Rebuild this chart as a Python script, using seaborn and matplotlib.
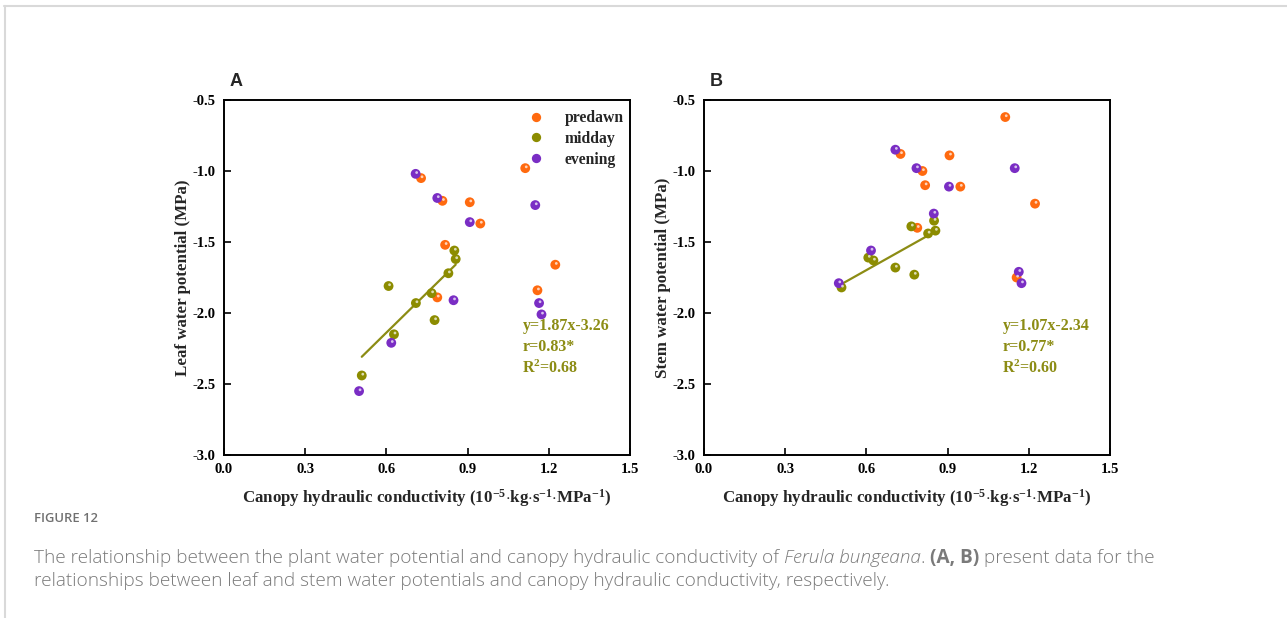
import matplotlib
matplotlib.use("Agg")
import matplotlib.pyplot as plt
import matplotlib.transforms as mtransforms
from matplotlib.lines import Line2D
import seaborn as sns
import pandas as pd
import numpy as np

# ---------------- data ----------------
# Panel A: leaf water potential (MPa) vs canopy hydraulic conductivity
a_predawn_x = [0.728, 0.807, 0.908, 0.947, 1.113, 0.817, 1.224, 1.158, 0.788]
a_predawn_y = [-1.05, -1.21, -1.22, -1.37, -0.98, -1.52, -1.66, -1.84, -1.89]
a_midday_x = [0.851, 0.856, 0.829, 0.608, 0.767, 0.709, 0.778, 0.628, 0.509]
a_midday_y = [-1.56, -1.62, -1.72, -1.81, -1.86, -1.93, -2.05, -2.15, -2.44]
a_evening_x = [0.708, 0.788, 0.908, 1.150, 0.848, 1.164, 1.173, 0.618, 0.499]
a_evening_y = [-1.02, -1.19, -1.36, -1.24, -1.91, -1.93, -2.01, -2.21, -2.55]

# Panel B: stem water potential (MPa)
b_predawn_x = [1.113, 0.726, 0.907, 0.807, 0.817, 0.947, 1.223, 0.788, 1.155]
b_predawn_y = [-0.62, -0.88, -0.89, -1.00, -1.10, -1.11, -1.23, -1.40, -1.75]
b_midday_x = [0.850, 0.855, 0.766, 0.828, 0.607, 0.626, 0.707, 0.777, 0.508]
b_midday_y = [-1.35, -1.42, -1.39, -1.44, -1.61, -1.63, -1.68, -1.73, -1.82]
b_evening_x = [0.707, 0.785, 0.905, 1.148, 0.849, 0.617, 1.163, 1.173, 0.498]
b_evening_y = [-0.85, -0.98, -1.11, -0.98, -1.30, -1.56, -1.71, -1.79, -1.79]

fits = {"A": (1.87, -3.26, "0.83*", "0.68"), "B": (1.07, -2.34, "0.77*", "0.60")}
series_names = ["predawn", "midday", "evening"]
x_ticks = [0.0, 0.3, 0.6, 0.9, 1.2, 1.5]
y_ticks = [-3.0, -2.5, -2.0, -1.5, -1.0, -0.5]
y_labels = ["Leaf water potential (MPa)", "Stem water potential (MPa)"]
x_label = r"Canopy hydraulic conductivity (10$^{\mathbf{-5}}$$\cdot$kg$\cdot$s$^{\mathbf{-1}}$$\cdot$MPa$^{\mathbf{-1}}$)"

colors = {"predawn": "#FF6A0F", "midday": "#8C8C00", "evening": "#7A2DC4"}
fit_color = "#8C8C14"

sns.set_theme(style="white")
plt.rcParams["font.family"] = ["Liberation Serif", "DejaVu Serif"]
plt.rcParams["mathtext.fontset"] = "custom"
plt.rcParams["mathtext.rm"] = "Liberation Serif:bold"
plt.rcParams["mathtext.it"] = "Liberation Serif:bold"
plt.rcParams["mathtext.bf"] = "Liberation Serif:bold"
plt.rcParams["axes.unicode_minus"] = False


def make_df(px, py, mx, my, ex, ey):
    rows = []
    for name, xs, ys in zip(series_names, [px, mx, ex], [py, my, ey]):
        for x, y in zip(xs, ys):
            rows.append({"K": x, "psi": y, "time": name})
    return pd.DataFrame(rows)


df_a = make_df(a_predawn_x, a_predawn_y, a_midday_x, a_midday_y, a_evening_x, a_evening_y)
df_b = make_df(b_predawn_x, b_predawn_y, b_midday_x, b_midday_y, b_evening_x, b_evening_y)

fig = plt.figure(figsize=(12.87, 6.18), dpi=100)
axA = fig.add_axes([224 / 1287, 163 / 618, 406 / 1287, 355 / 618])
axB = fig.add_axes([704 / 1287, 163 / 618, 406 / 1287, 355 / 618])


def draw_panel(ax, df, key, ylabel, legend):
    for name in series_names:
        sub = df[df["time"] == name]
        sns.scatterplot(data=sub, x="K", y="psi", ax=ax, color=colors[name], s=50,
                        edgecolor="none", legend=False, zorder=3)
        # glossy highlight
        off = mtransforms.offset_copy(ax.transData, fig=fig, x=1.0, y=1.3, units="dots")
        ax.scatter(sub["K"], sub["psi"], s=4, color="white", alpha=0.7,
                   edgecolor="none", transform=off, zorder=4)
    slope, inter, r, r2 = fits[key]
    mid = df[df["time"] == "midday"]
    xs = np.array([mid["K"].min(), mid["K"].max()])
    sns.lineplot(x=xs, y=slope * xs + inter, ax=ax, color=fit_color, lw=1.6, zorder=2)

    ax.set_xlim(0, 1.5)
    ax.set_ylim(-3.0, -0.5)
    ax.set_xticks(x_ticks)
    ax.set_yticks(y_ticks)
    ax.set_xticklabels([f"{v:.1f}" for v in x_ticks])
    ax.set_yticklabels([f"{v:.1f}" for v in y_ticks])
    ax.tick_params(direction="in", length=5, width=1.2, labelsize=10.5,
                   bottom=True, left=True, colors="black")
    ax.tick_params(axis="x", pad=6)
    ax.tick_params(axis="y", pad=6)
    for lab in ax.get_xticklabels() + ax.get_yticklabels():
        lab.set_fontweight("bold")
    for sp in ax.spines.values():
        sp.set_visible(True)
        sp.set_color("black")
        sp.set_linewidth(1.4)
    ax.set_xlabel(x_label, fontsize=12.2, fontweight="bold", labelpad=8)
    ax.set_ylabel(ylabel, fontsize=12.2, fontweight="bold", labelpad=1)
    ax.grid(False)

    ax.text(0.735, 0.363, f"y={slope:.2f}x{inter:.2f}", transform=ax.transAxes,
            color=fit_color, fontsize=11.5, fontweight="bold", ha="left", va="center")
    ax.text(0.735, 0.304, f"r={r}", transform=ax.transAxes,
            color=fit_color, fontsize=11.5, fontweight="bold", ha="left", va="center")
    ax.text(0.735, 0.245, r"R$^{2}$=" + r2, transform=ax.transAxes,
            color=fit_color, fontsize=11.5, fontweight="bold", ha="left", va="center")

    ax.text(0.0 + 6 / 406, 1.0 + 18 / 355, key, transform=ax.transAxes, fontsize=13,
            fontweight="bold", family="Liberation Sans", ha="left", va="center")

    if legend:
        handles = [Line2D([0], [0], marker="o", ls="none", markersize=6.7,
                          markerfacecolor=colors[n], markeredgecolor="none")
                   for n in series_names]
        ax.legend(handles, series_names, loc="upper left",
                  bbox_to_anchor=(0.727, 0.998), frameon=False,
                  prop={"family": "Liberation Serif", "weight": "bold", "size": 11.3},
                  handletextpad=1.3, labelspacing=0.30, handlelength=1.0,
                  borderaxespad=0.2)


draw_panel(axA, df_a, "A", y_labels[0], True)
draw_panel(axB, df_b, "B", y_labels[1], False)

# frame lines of the page
fig.add_artist(Line2D([4 / 1287, 1.0], [1 - 5.5 / 618, 1 - 5.5 / 618],
                      transform=fig.transFigure, color="#d9d9d9", lw=1.5))
fig.add_artist(Line2D([4.5 / 1287, 4.5 / 1287], [0, 1 - 5.5 / 618],
                      transform=fig.transFigure, color="#d9d9d9", lw=1.5))

# caption
cap_font = "Open Sans"
cap_col = "#7a7a7a"
cap_size = 13.7
fig.text(34 / 1287, 1 - 519 / 618, "FIGURE 12", fontsize=9.4, color="#707070",
         family=cap_font, fontweight="semibold", va="center", ha="left")
t1 = fig.text(34 / 1287, 1 - 563 / 618,
              "The relationship between the plant water potential and canopy hydraulic conductivity of ",
              fontsize=cap_size, color=cap_col, family=cap_font, fontweight="light",
              va="baseline", ha="left")
t2 = fig.text(0, 0, "Ferula bungeana", fontsize=cap_size, color=cap_col, family=cap_font,
              style="italic", fontweight="light")
t3 = fig.text(0, 0, ". ", fontsize=cap_size, color=cap_col, family=cap_font, fontweight="light")
t4 = fig.text(0, 0, "(A, B)", fontsize=cap_size, color=cap_col, family=cap_font,
              fontweight="bold")
t5 = fig.text(0, 0, " present data for the", fontsize=cap_size, color=cap_col,
              family=cap_font, fontweight="light")
fig.text(34 / 1287, 1 - 586 / 618,
         "relationships between leaf and stem water potentials and canopy hydraulic conductivity, respectively.",
         fontsize=cap_size, color=cap_col, family=cap_font, fontweight="light",
         va="baseline", ha="left")

# chain caption pieces
fig.canvas.draw()
renderer = fig.canvas.get_renderer()
prev = t1
for t in [t2, t3, t4, t5]:
    bb = prev.get_window_extent(renderer)
    x_new = bb.x1 / fig.bbox.width
    t.set_position((x_new, t1.get_position()[1]))
    t.set_va("baseline")
    fig.canvas.draw()
    prev = t

fig.savefig("out.png", dpi=100, facecolor="white")
